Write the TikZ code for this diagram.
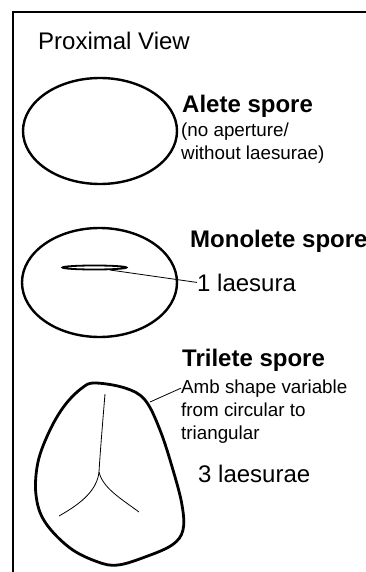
\documentclass[tikz,border=0pt]{standalone}
\usepackage{fontspec}
\setmainfont{Liberation Sans}
\begin{document}
\begin{tikzpicture}[x=1pt,y=-1pt,
  lbl/.style={inner sep=0pt, anchor=base west, font=\fontsize{24}{28}\selectfont},
  title/.style={inner sep=0pt, anchor=base west, font=\fontsize{24}{28}\selectfont\bfseries},
  note/.style={inner sep=0pt, anchor=base west, font=\fontsize{18.8}{22}\selectfont},
  outline/.style={line width=2.4pt},
  thinline/.style={line width=0.8pt},
  frame/.style={line width=2pt}]
\useasboundingbox (0,0) rectangle (366,572);
\clip (0,0) rectangle (366,572);

% panel frame (left and top edges)
\draw[frame] (13,580) -- (13,12) -- (372,12);

\node[lbl] (view) at (38,50) {Proximal View};

% alete spore
\draw[outline] (100,131) ellipse (77 and 53);
\node[title] (alete) at (182,113) {Alete spore};
\node[note] (alete1) at (181,137) {(no aperture/};
\node[note] (alete2) at (181,160) {without laesurae)};

% monolete spore
\draw[outline] (99.5,282.5) ellipse (77.5 and 54.5);
\draw[line width=1.8pt] (94.5,267.5) ellipse (32 and 2);
\coordinate (slit) at (110,270);
\node[title] (mono) at (190,247) {Monolete spore};
\node[lbl] (one) at (197,291) {1 laesura};
\draw[thinline] (slit) -- (one.west);

% trilete spore
\draw[line width=2.8pt] plot[smooth cycle, tension=0.6] coordinates {
  (95,383) (125,388) (145,400) (160,430) (173,470) (182,505) (183,530)
  (172,545) (145,557) (118,565) (98,562) (70,548) (45,522) (36,495)
  (38,462) (50,430) (65,405) (82,388)};
\coordinate (junction) at (99,472);
\draw[thinline] (105,394) .. controls (102,430) and (100,455) .. (junction);
\draw[thinline] (junction) .. controls (97,490) and (82,503) .. (59,516);
\draw[thinline] (junction) .. controls (103,488) and (120,498) .. (139,512);
\coordinate (amb) at (150,402);
\node[title] (tri) at (182,366) {Trilete spore};
\node[note] (tri1) at (181,393) {Amb shape variable};
\node[note] (tri2) at (181,416) {from circular to};
\node[note] (tri3) at (181,439) {triangular};
\node[lbl] (three) at (198,482) {3 laesurae};
\draw[thinline] (amb) -- (tri1.west);
\end{tikzpicture}
\end{document}
